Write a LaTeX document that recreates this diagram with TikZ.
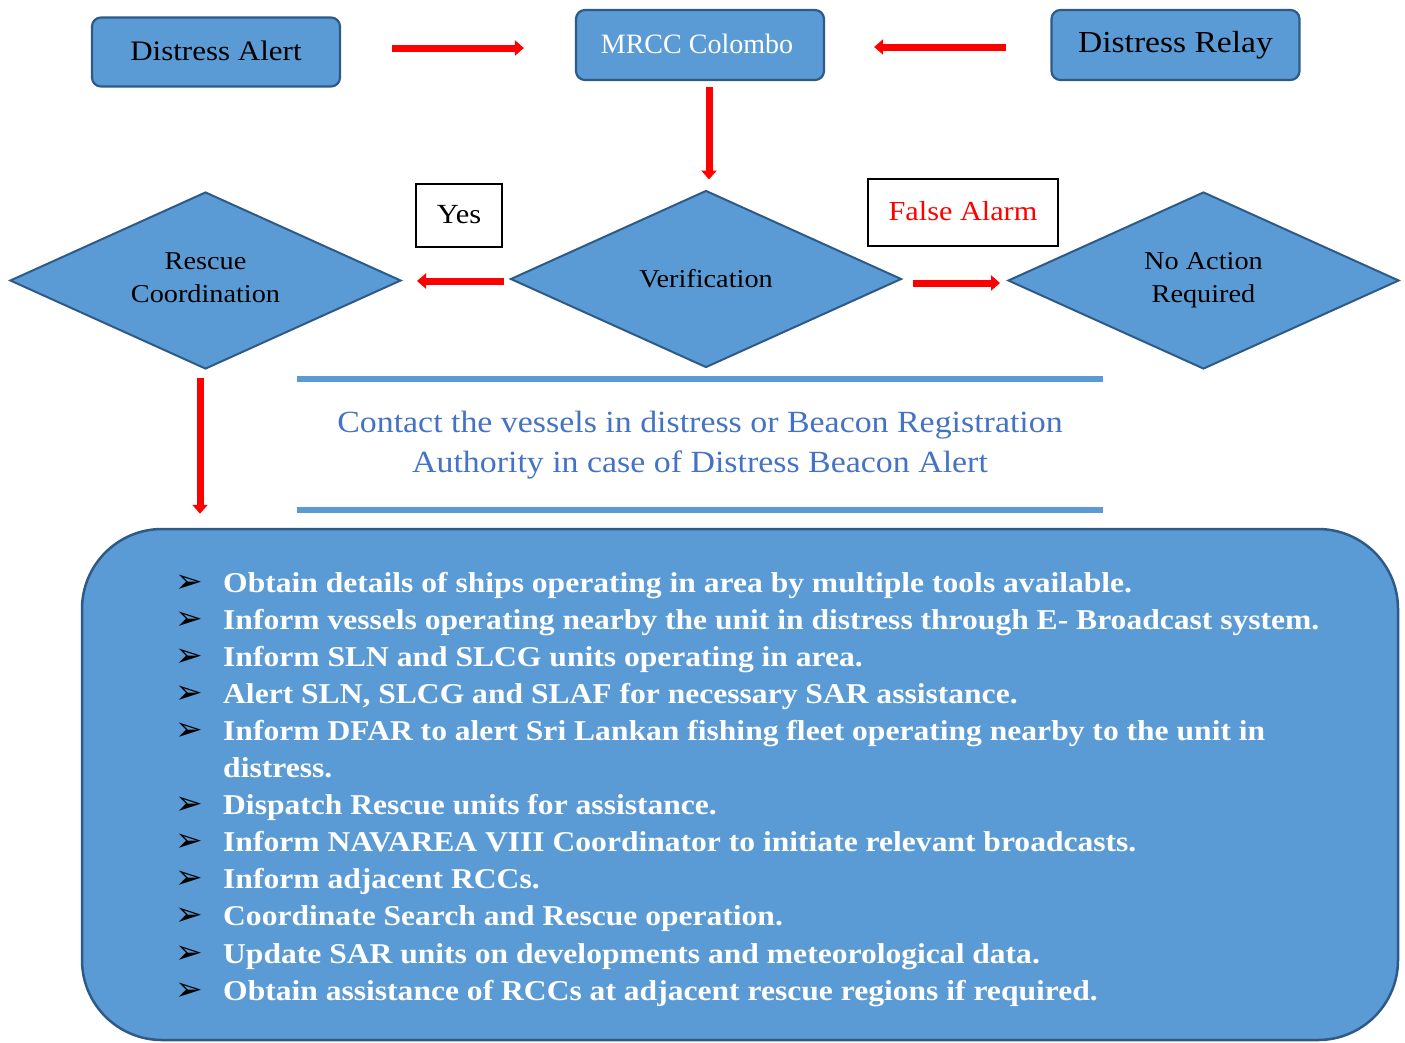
\documentclass[tikz,border=0pt]{standalone}
\usepackage{fontspec}
\setmainfont{Liberation Serif}[FakeStretch=1.1]
\newfontfamily\plainserif{Liberation Serif}
\newfontfamily\dejav{DejaVu Sans}
\usetikzlibrary{shapes.geometric,arrows.meta}
\definecolor{boxfill}{HTML}{5B9BD5}
\definecolor{boxline}{HTML}{2E5A88}
\definecolor{txtblue}{HTML}{4472C4}
\newcommand{\twolines}[2]{\raisebox{-5pt}[0pt][0pt]{\begin{tabular}{@{}c@{}}#1\\#2\end{tabular}}}
\tikzset{
 rbox/.style={draw=boxline, fill=boxfill, line width=2.2pt, rounded corners=9pt, minimum width=248pt, minimum height=69pt, inner sep=0pt},
 dbox/.style={diamond, draw=boxline, fill=boxfill, line width=2pt, minimum width=391pt, minimum height=177pt, inner sep=0pt, align=center, font=\fontsize{25.7}{33}\selectfont},
 lbox/.style={draw=black, line width=1.6pt, fill=white, inner sep=0pt},
 redarr/.style={draw=red, line width=7pt, -{Triangle[width=15pt,length=9pt]}},
 blueline/.style={draw=boxfill, line width=6pt},
 itemtext/.style={anchor=base west, inner sep=0pt, text=white, font=\fontsize{28.7}{34}\selectfont\bfseries},
 bullet/.style={anchor=base west, inner sep=0pt, text=black, font=\dejav\fontsize{33}{34}\selectfont},
}
\begin{document}
\begin{tikzpicture}[x=1pt,y=-1pt]
\useasboundingbox (0,0) rectangle (1405,1042);
% top row
\node[rbox, font=\fontsize{28.2}{32}\selectfont] (alert) at (216,52) {\raisebox{2pt}{Distress Alert}};
\node[rbox, minimum height=70pt, text=white, font=\plainserif\fontsize{28}{34}\selectfont] (mrcc) at (700,45) {\raisebox{2pt}{MRCC Colombo}\hspace*{6pt}};
\node[rbox, minimum height=70pt, font=\fontsize{30.5}{34}\selectfont] (relay) at (1175.5,45) {Distress Relay};
% diamonds
\node[dbox] (verif) at (706,279) {Verification};
\node[dbox] (resc) at (205.5,280.5) {\twolines{Rescue}{Coordination}};
\node[dbox] (noact) at (1203.5,280.5) {\twolines{No Action}{Required}};
% labels
\node[lbox, minimum width=86pt, minimum height=63pt, font=\fontsize{27.7}{32}\selectfont] (yes) at (459,215.5) {\raisebox{2pt}{Yes}};
\node[lbox, minimum width=190pt, minimum height=67pt, text=red, font=\fontsize{27.5}{32}\selectfont] (false) at (963,212.5) {\raisebox{4pt}{False Alarm}};
% arrows
\draw[redarr, shorten <=51pt, shorten >=51pt] (alert.east |- 0,48) -- (mrcc.west |- 0,48);
\draw[redarr, shorten <=44pt, shorten >=49pt] (relay.west |- 0,47) -- (mrcc.east |- 0,47);
\draw[redarr, shorten <=6pt, shorten >=10pt] (mrcc.south -| 709,0) -- (verif.north -| 709,0);
\draw[redarr, shorten <=6pt, shorten >=15pt] (verif.west |- 0,281) -- (resc.east |- 0,281);
\draw[redarr, shorten <=10pt, shorten >=7pt] (verif.east |- 0,283) -- (noact.west |- 0,283);
% contact block
\coordinate (l1a) at (297,379); \coordinate (l1b) at (1103,379);
\coordinate (l2a) at (297,510); \coordinate (l2b) at (1103,510);
\draw[blueline] (l1a) -- (l1b);
\draw[blueline] (l2a) -- (l2b);
\node[align=center, text=txtblue, font=\fontsize{30.8}{40}\selectfont, inner sep=0pt] (contact) at (700,445) {Contact the vessels in distress or Beacon Registration\\Authority in case of Distress Beacon Alert};
% big box
\node[draw=boxline, fill=boxfill, line width=2.5pt, rounded corners=80pt, minimum width=1316pt, minimum height=511pt, inner sep=0pt] (big) at (740,784.5) {};
\draw[redarr, shorten <=8pt, shorten >=14pt] (resc.south -| 200,0) -- (big.north -| 200,0);
% list
\foreach \t [count=\i] in {
 {Obtain details of ships operating in area by multiple tools available.},
 {Inform vessels operating nearby the unit in distress through E- Broadcast system.},
 {Inform SLN and SLCG units operating in area.},
 {Alert SLN, SLCG and SLAF for necessary SAR assistance.},
 {Inform DFAR to alert Sri Lankan fishing fleet operating nearby to the unit in},
 {},
 {Dispatch Rescue units for assistance.},
 {Inform NAVAREA VIII Coordinator to initiate relevant broadcasts.},
 {Inform adjacent RCCs.},
 {Coordinate Search and Rescue operation.},
 {Update SAR units on developments and meteorological data.},
 {Obtain assistance of RCCs at adjacent rescue regions if required.}}
{
 \pgfmathsetmacro{\yb}{592+37.1*(\i-1)}
 \ifnum\i=6\else
 \node[bullet] (b\i) at (175,\yb) {➢};
 \node[itemtext] (t\i) at (223,\yb) {\t};
 \fi
}
\node[itemtext] (t6) at (223,{592+37.1*5}) {distress.};
\end{tikzpicture}
\end{document}
